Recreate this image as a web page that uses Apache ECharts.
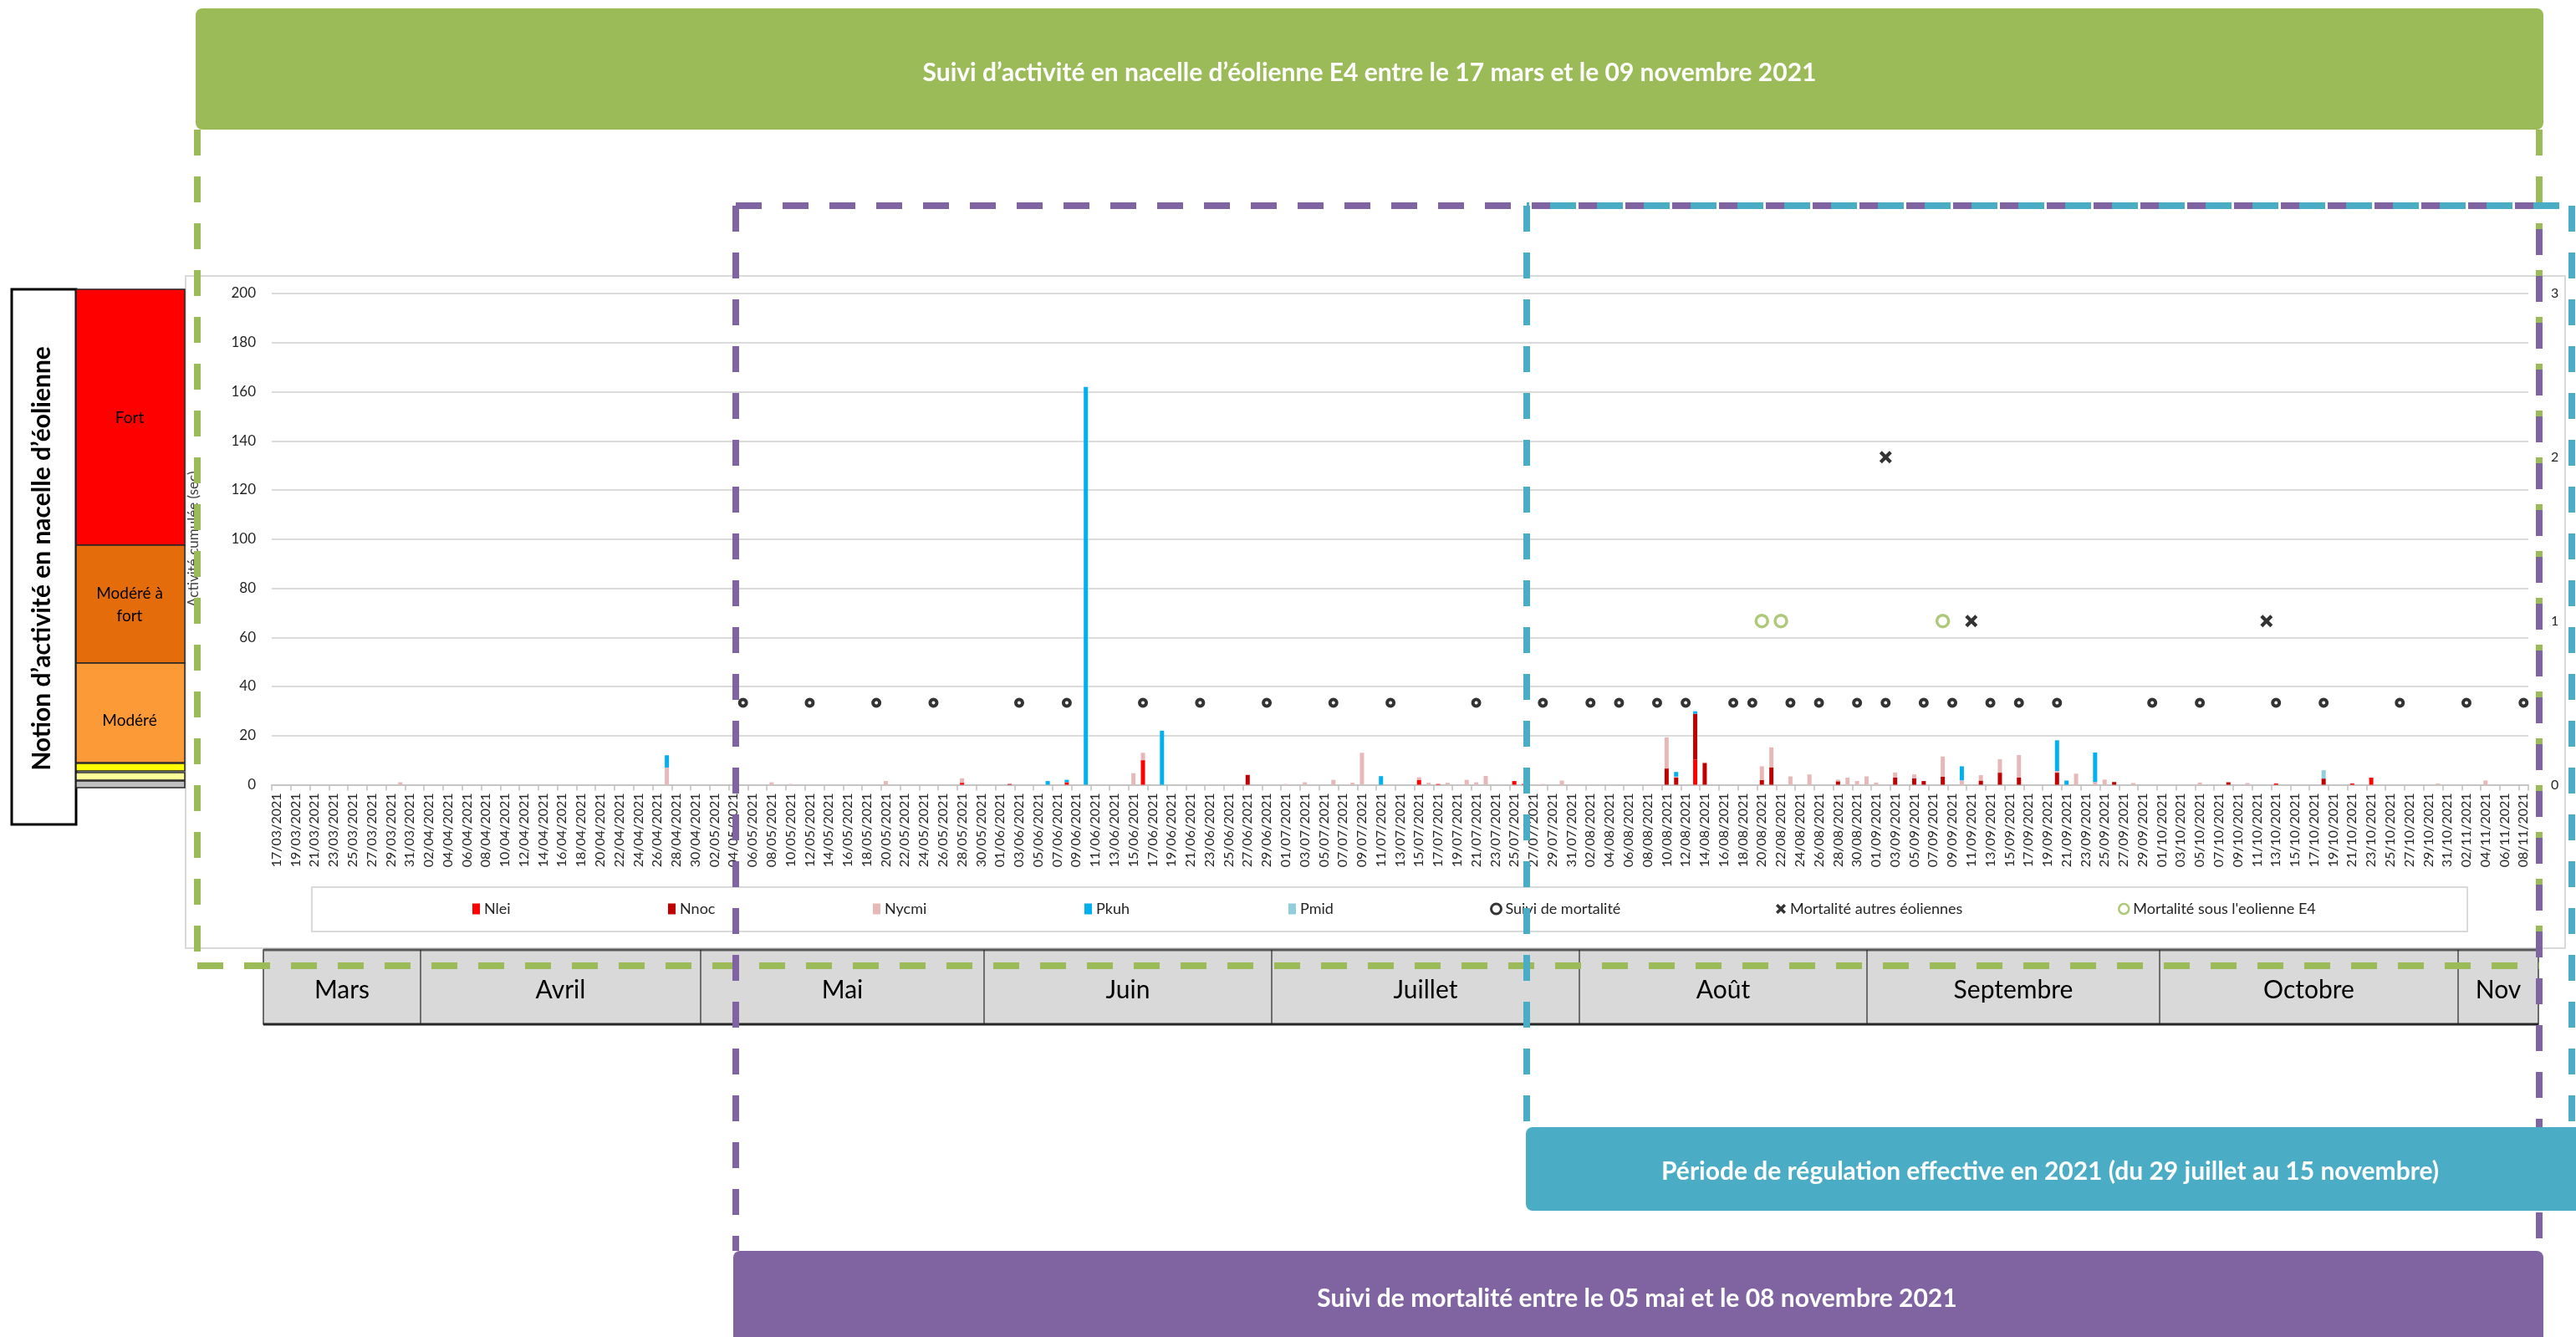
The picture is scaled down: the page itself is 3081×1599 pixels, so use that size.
<!DOCTYPE html>
<html>
<head>
<meta charset="utf-8">
<script src="https://cdn.jsdelivr.net/npm/echarts@6/dist/echarts.min.js"></script>
<style>
  html, body { margin: 0; padding: 0; background: #ffffff; }
  #chart { width: 3081px; height: 1599px; }
</style>
</head>
<body>
<div id="chart"></div>
<script>
// ---- Daily categories: 17/03/2021 .. 08/11/2021 ----
const firstDay = Date.UTC(2021, 2, 17);
const dayCount = 237;
const dates = [];
for (let i = 0; i < dayCount; i++) {
  const d = new Date(firstDay + i * 86400000);
  dates.push(String(d.getUTCDate()).padStart(2, '0') + '/' +
             String(d.getUTCMonth() + 1).padStart(2, '0') + '/2021');
}

// ---- Cumulated activity per species (seconds), days with activity only ----
const nlei = [
  ['28/05', 0.8], ['08/06', 1], ['16/06', 10], ['15/07', 2], ['17/07', 0.3],
  ['25/07', 1.5], ['26/07', 0.3], ['13/08', 10.3], ['13/10', 0.5], ['21/10', 0.5],
  ['23/10', 2.9]
];
const nnoc = [
  ['02/06', 0.3], ['27/06', 4], ['10/08', 6.6], ['11/08', 3], ['13/08', 18.6],
  ['14/08', 8.9], ['20/08', 1.9], ['21/08', 7.1], ['28/08', 1.4], ['03/09', 2.9],
  ['05/09', 2.6], ['06/09', 1.5], ['08/09', 3.3], ['12/09', 1.7], ['14/09', 4.9],
  ['16/09', 2.9], ['20/09', 4.9], ['26/09', 1.1], ['08/10', 1.0], ['18/10', 2.5]
];
const nycmi = [
  ['30/03', 1], ['27/04', 7], ['08/05', 1], ['10/05', 0.3], ['20/05', 1.5],
  ['28/05', 1.8], ['15/06', 4.7], ['16/06', 3], ['01/07', 0.3], ['03/07', 1],
  ['06/07', 2], ['08/07', 0.8], ['09/07', 13], ['15/07', 1], ['16/07', 0.8],
  ['18/07', 0.8], ['20/07', 2], ['21/07', 1], ['22/07', 3.6], ['28/07', 0.3],
  ['30/07', 1.7], ['31/07', 0.2], ['08/08', 0.2], ['10/08', 12.7], ['11/08', 0.3],
  ['14/08', 0.2], ['20/08', 5.6], ['21/08', 8.1], ['22/08', 0.2], ['23/08', 3.4],
  ['25/08', 4.2], ['28/08', 0.7], ['29/08', 2.9], ['30/08', 1.5], ['31/08', 3.4],
  ['01/09', 0.9], ['03/09', 2.1], ['05/09', 1.6], ['08/09', 8.2], ['10/09', 1.8],
  ['12/09', 2.2], ['14/09', 5.5], ['16/09', 9.2], ['20/09', 0.7], ['22/09', 4.5],
  ['24/09', 1.1], ['25/09', 2.1], ['28/09', 0.7], ['05/10', 0.9], ['10/10', 0.7],
  ['30/10', 0.5], ['04/11', 1.7]
];
const pkuh = [
  ['27/04', 5], ['06/06', 1.5], ['08/06', 1], ['10/06', 162], ['18/06', 22],
  ['11/07', 3.5], ['11/08', 1.9], ['13/08', 1], ['10/09', 5.7], ['20/09', 12.5],
  ['21/09', 1.7], ['24/09', 12]
];
const pmid = [
  ['18/10', 3.4]
];

// ---- Mortality monitoring (right axis) ----
const suiviLevel = 0.5;
const suiviDays = [
  '05/05', '12/05', '19/05', '25/05', '03/06', '08/06', '16/06', '22/06', '29/06',
  '06/07', '12/07', '21/07', '28/07', '02/08', '05/08', '09/08', '12/08', '17/08',
  '19/08', '23/08', '26/08', '30/08', '02/09', '06/09', '09/09', '13/09', '16/09',
  '20/09', '30/09', '05/10', '13/10', '18/10', '26/10', '02/11', '08/11'
];
const mortAutres = [['02/09', 2], ['11/09', 1], ['12/10', 1]];
const mortE4 = [['20/08', 1], ['22/08', 1], ['08/09', 1]];

// ---- Axis ticks ----
const leftTicks = { min: 0, max: 200, interval: 20 };
const rightTicks = { min: 0, max: 3, interval: 1 };

// ---- Month strip ----
const months = ['Mars', 'Avril', 'Mai', 'Juin', 'Juillet', 'Août', 'Septembre', 'Octobre', 'Nov'];

// ---- Activity scale ----
const levels = ['Fort', 'Modéré à\nfort', 'Modéré'];

// ---------------------------------------------------------------
function daily(pairs) {
  const out = dates.map(() => 0);
  pairs.forEach(([dm, v]) => { out[dates.indexOf(dm + '/2021')] = v; });
  return out;
}
function points(pairs) {
  return pairs.map(([dm, v]) => [dm + '/2021', v]);
}

const GREEN = '#9BBB59', PURPLE = '#8064A2', TEAL = '#4BACC6';
const FONT = 'Lato';
const DASH = [31, 25];

function dashed(x1, y1, x2, y2, color, offset) {
  return {
    type: 'line', z: 100, silent: true,
    shape: { x1, y1, x2, y2 },
    style: { stroke: color, lineWidth: 8, lineDash: DASH, lineDashOffset: offset || 0 }
  };
}
function label(x, y, text, font, fill, extra, styleExtra) {
  return Object.assign({
    type: 'text', x, y, z: 102, silent: true,
    style: Object.assign({ text, font, fill, align: 'center', verticalAlign: 'middle' }, styleExtra || {})
  }, extra || {});
}

// layout of the month strip cells (pixel edges)
const monthEdges = [315, 503, 838, 1177, 1521, 1889, 2233, 2583, 2940, 3036];
const monthTop = 1136, monthBottom = 1225;

const graphics = [];

// chart area frame
graphics.push({ type: 'rect', z: 0, silent: true,
  shape: { x: 222, y: 330, width: 2846, height: 804 },
  style: { fill: 'rgba(0,0,0,0)', stroke: '#D9D9D9', lineWidth: 2 } });
// legend frame
graphics.push({ type: 'rect', z: 3, silent: true,
  shape: { x: 373, y: 1061, width: 2578, height: 53 },
  style: { fill: '#ffffff', stroke: '#D9D9D9', lineWidth: 2 } });

// month strip
graphics.push({ type: 'rect', z: 5, silent: true,
  shape: { x: monthEdges[0], y: monthTop, width: monthEdges[monthEdges.length - 1] - monthEdges[0], height: monthBottom - monthTop },
  style: { fill: '#D9D9D9', stroke: '#404040', lineWidth: 1.5 } });
graphics.push({ type: 'line', z: 6, silent: true,
  shape: { x1: monthEdges[0], y1: monthTop, x2: monthEdges[monthEdges.length - 1], y2: monthTop },
  style: { stroke: '#595959', lineWidth: 3 } });
graphics.push({ type: 'line', z: 6, silent: true,
  shape: { x1: monthEdges[0], y1: monthBottom, x2: monthEdges[monthEdges.length - 1], y2: monthBottom },
  style: { stroke: '#262626', lineWidth: 3 } });
months.forEach((m, i) => {
  if (i > 0) {
    graphics.push({ type: 'line', z: 6, silent: true,
      shape: { x1: monthEdges[i], y1: monthTop, x2: monthEdges[i], y2: monthBottom },
      style: { stroke: '#262626', lineWidth: 1.2 } });
  }
  graphics.push(label((monthEdges[i] + monthEdges[i + 1]) / 2, 1184, m, '30px ' + FONT, '#000', { z: 7 }));
});

// activity scale panel
graphics.push({ type: 'rect', z: 5, silent: true,
  shape: { x: 14, y: 346, width: 77, height: 640 },
  style: { fill: '#ffffff', stroke: '#000', lineWidth: 3 } });
graphics.push(label(50, 668, 'Notion d’activité en nacelle d’éolienne', 'bold 30px ' + FONT, '#000',
  { rotation: Math.PI / 2, z: 7 }));
const scaleBands = [
  { y: 346, h: 306, fill: '#FF0000' },
  { y: 652, h: 141, fill: '#E46C0A' },
  { y: 793, h: 119, fill: '#FB9A37' },
  { y: 913, h: 9, fill: '#FFFF00' },
  { y: 924, h: 9, fill: '#FFFF99' },
  { y: 934, h: 8, fill: '#BFBFBF' }
];
scaleBands.forEach(b => {
  graphics.push({ type: 'rect', z: 5, silent: true,
    shape: { x: 91, y: b.y, width: 130, height: b.h },
    style: { fill: b.fill, stroke: '#262626', lineWidth: 1.5 } });
});
graphics.push(label(155, 500, levels[0], '19px ' + FONT, '#000', { z: 7 }));
graphics.push(label(155, 723, levels[1], '19px ' + FONT, '#000', { z: 7 }, { lineHeight: 27 }));
graphics.push(label(155, 862, levels[2], '19px ' + FONT, '#000', { z: 7 }));

// dashed period frames
graphics.push(dashed(236, 155, 236, 1155, GREEN));
graphics.push(dashed(236, 1155, 3037, 1155, GREEN));
graphics.push(dashed(3037, 155, 3037, 1155, GREEN));
graphics.push(dashed(880, 246, 3037, 246, PURPLE));
graphics.push(dashed(880, 246, 880, 1496, PURPLE));
graphics.push(dashed(3037, 246, 3037, 1496, PURPLE, 28));
graphics.push(dashed(1826, 246, 3076, 246, TEAL, 28));
graphics.push(dashed(1826, 246, 1826, 1348, TEAL));
graphics.push(dashed(3076, 246, 3076, 1348, TEAL));

// banners
graphics.push({ type: 'rect', z: 101, silent: true,
  shape: { x: 234, y: 10, width: 2808, height: 145, r: 8 }, style: { fill: GREEN } });
graphics.push(label(1638, 87, 'Suivi d’activité en nacelle d’éolienne E4 entre le 17 mars et le 09 novembre 2021',
  'bold 30px ' + FONT, '#ffffff'));
graphics.push({ type: 'rect', z: 101, silent: true,
  shape: { x: 1825, y: 1348, width: 1280, height: 100, r: 8 }, style: { fill: TEAL } });
graphics.push(label(2452, 1401, 'Période de régulation effective en 2021 (du 29 juillet au 15 novembre)',
  'bold 30px ' + FONT, '#ffffff'));
graphics.push({ type: 'rect', z: 101, silent: true,
  shape: { x: 877, y: 1496, width: 2165, height: 112, r: 8 }, style: { fill: PURPLE } });
graphics.push(label(1958, 1553, 'Suivi de mortalité entre le 05 mai et le 08 novembre 2021',
  'bold 30px ' + FONT, '#ffffff'));

// ---------------------------------------------------------------
const barSeries = [
  { name: 'Nlei', data: nlei, color: '#FF0000' },
  { name: 'Nnoc', data: nnoc, color: '#C00000' },
  { name: 'Nycmi', data: nycmi, color: '#E6B9B8' },
  { name: 'Pkuh', data: pkuh, color: '#00B0F0' },
  { name: 'Pmid', data: pmid, color: '#92CDDC' }
].map(s => ({
  name: s.name, type: 'bar', stack: 'activite', barWidth: 5,
  data: daily(s.data), itemStyle: { color: s.color }
}));

const xMark = 'path://M0,2 L2,0 L5,3 L8,0 L10,2 L7,5 L10,8 L8,10 L5,7 L2,10 L0,8 L3,5 Z';

const scatterSeries = [
  { name: 'Suivi de mortalité', type: 'scatter', yAxisIndex: 1, z: 5,
    symbol: 'circle', symbolSize: 8,
    itemStyle: { color: '#ffffff', borderColor: '#000000', borderWidth: 4 },
    data: suiviDays.map(d => [d + '/2021', suiviLevel]) },
  { name: 'Mortalité autres éoliennes', type: 'scatter', yAxisIndex: 1, z: 5,
    symbol: xMark, symbolSize: 15,
    itemStyle: { color: '#000000' },
    data: points(mortAutres) },
  { name: 'Mortalité sous l\'eolienne E4', type: 'scatter', yAxisIndex: 1, z: 5,
    symbol: 'circle', symbolSize: 14,
    itemStyle: { color: '#ffffff', borderColor: GREEN, borderWidth: 3.5 },
    data: points(mortE4) }
];

const legendNames = ['Nlei', 'Nnoc', 'Nycmi', 'Pkuh', 'Pmid',
  'Suivi de mortalité', 'Mortalité autres éoliennes', 'Mortalité sous l\'eolienne E4'];
const legendLeft = [565, 799, 1044, 1297, 1541, 1782, 2124, 2533];
const legendIconStyle = [null, null, null, null, null,
  { color: '#ffffff', borderColor: '#000000', borderWidth: 3 },
  { color: '#000000', borderWidth: 0 },
  { color: '#ffffff', borderColor: GREEN, borderWidth: 2.5 }];

const option = {
  animation: false,
  backgroundColor: '#ffffff',
  textStyle: { fontFamily: FONT },
  grid: { left: 325, right: 57, top: 351, bottom: 660.5, containLabel: false },
  legend: legendNames.map((n, i) => {
    const lg = {
      data: [n], left: legendLeft[i], top: 1078, padding: 0, z: 4,
      selectedMode: false,
      itemWidth: i < 5 ? 9 : 12, itemHeight: i < 5 ? 13 : 12,
      textStyle: { fontSize: 18, color: '#262626', fontFamily: FONT }
    };
    if (i < 5) lg.icon = 'rect';
    if (legendIconStyle[i]) lg.itemStyle = legendIconStyle[i];
    return lg;
  }),
  xAxis: {
    type: 'category', data: dates, boundaryGap: true,
    axisLine: { lineStyle: { color: '#BFBFBF', width: 1.5 } },
    axisTick: { show: true, interval: 1, length: 7, lineStyle: { color: '#BFBFBF', width: 1.5 } },
    axisLabel: { interval: 1, rotate: 90, fontSize: 16, color: '#262626', margin: 10 }
  },
  yAxis: [
    {
      type: 'value', min: leftTicks.min, max: leftTicks.max, interval: leftTicks.interval,
      name: 'Activité cumulée (sec)', nameLocation: 'middle', nameGap: 85, nameRotate: 90,
      nameTextStyle: { fontSize: 17, color: '#404040' },
      axisLine: { show: false }, axisTick: { show: false },
      axisLabel: { fontSize: 17, color: '#262626', margin: 19 },
      splitLine: { lineStyle: { color: '#CFCFCF', width: 1.5 } }
    },
    {
      type: 'value', min: rightTicks.min, max: rightTicks.max, interval: rightTicks.interval,
      position: 'right',
      axisLine: { show: false }, axisTick: { show: false },
      axisLabel: { fontSize: 16, color: '#262626', margin: 27 },
      splitLine: { show: false }
    }
  ],
  series: barSeries.concat(scatterSeries),
  graphic: { elements: graphics }
};

const chart = echarts.init(document.getElementById('chart'), null, { renderer: 'canvas' });
chart.setOption(option);
</script>
</body>
</html>
